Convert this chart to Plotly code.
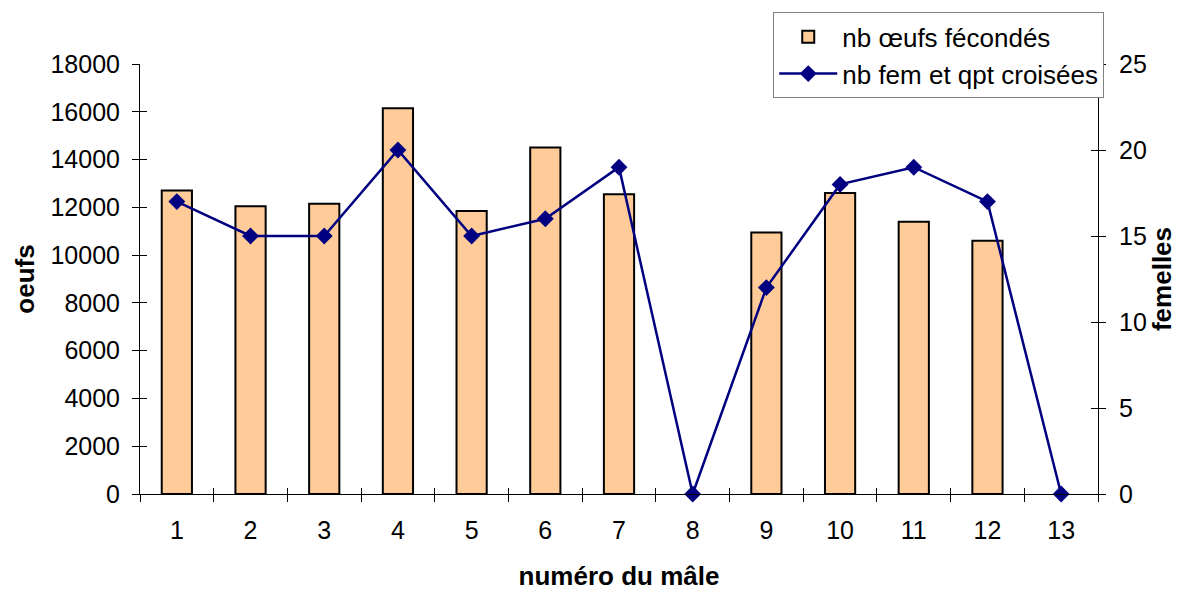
import plotly.graph_objects as go

# Numéro du mâle
males = [str(i) for i in range(1, 14)]
# Nombre d'oeufs fécondés par mâle
oeufs = [12700, 12050, 12150, 16150, 11850, 14500, 12550, 0, 10950, 12600, 11400, 10600, 0]
# Nombre de femelles et quelques croisées
femelles = [17, 15, 15, 20, 15, 16, 19, 0, 12, 18, 19, 17, 0]

y1_ticks = list(range(0, 18001, 2000))
y2_ticks = list(range(0, 26, 5))

FONT = "Liberation Sans, Arial, sans-serif"
TICK_FS = 25
TITLE_FS = 26
XRANGE = [-0.5, len(males) - 0.5]

fig = go.Figure()
fig.add_trace(go.Bar(
    x=males, y=oeufs, name="nb œufs fécondés",
    marker=dict(color="#FFCC99",
                # no outline for empty bars
                line=dict(color="black", width=[2 if v > 0 else 0 for v in oeufs])),
    yaxis="y",
))
fig.add_trace(go.Scatter(
    x=males, y=femelles, name="nb fem et qpt croisées",
    mode="lines+markers",
    line=dict(color="#000080", width=2.5),
    marker=dict(symbol="diamond", size=13, color="#000080"),
    yaxis="y2", cliponaxis=False,
))

axis_common = dict(showgrid=False, zeroline=False, ticklen=7, tickwidth=1,
                   tickcolor="black", linecolor="black", linewidth=1, automargin=False,
                   tickfont=dict(family=FONT, size=TICK_FS, color="black"))
title_font = dict(family=FONT, size=TITLE_FS, color="black")

fig.update_layout(
    width=1190, height=592,
    margin=dict(l=140, r=92, t=60, b=98),
    plot_bgcolor="white", paper_bgcolor="white",
    bargap=0.59,
    showlegend=True,
    legend=dict(
        x=0.661, y=1.12, xanchor="left", yanchor="top",
        bgcolor="white", bordercolor="#808080", borderwidth=1,
        font=dict(family=FONT, size=26, color="black"),
        itemwidth=58, tracegroupgap=0,
    ),
    xaxis=dict(
        type="category", range=XRANGE, showline=True, ticks="outside", tickson="boundaries",
        ticklabelstandoff=14,
        title=dict(text="<b>numéro du mâle</b>", font=title_font, standoff=23),
        **axis_common,
    ),
    yaxis=dict(
        range=[0, 18000], tickvals=y1_ticks, tickformat="d", ticks="outside", showline=True,
        ticklabelstandoff=7,
        title=dict(text="<b>oeufs</b>", font=title_font, standoff=8),
        **axis_common,
    ),
    yaxis2=dict(
        range=[0, 25], tickvals=y2_ticks, ticks="outside", showline=True,
        overlaying="y", side="right", ticklabelstandoff=8,
        title=dict(text="<b>femelles</b>", font=title_font, standoff=4),
        **axis_common,
    ),
    # inner halves of the crossing tick marks
    yaxis3=dict(range=[0, 18000], tickvals=y1_ticks, ticks="inside", showticklabels=False,
                overlaying="y", side="left", showgrid=False, zeroline=False,
                ticklen=7, tickcolor="black", automargin=False),
    yaxis4=dict(range=[0, 25], tickvals=y2_ticks, ticks="inside", showticklabels=False,
                overlaying="y", side="right", showgrid=False, zeroline=False,
                ticklen=7, tickcolor="black", automargin=False),
    xaxis2=dict(type="category", range=XRANGE, ticks="inside", tickson="boundaries",
                showticklabels=False, overlaying="x", side="bottom", showgrid=False,
                zeroline=False, ticklen=6, tickcolor="black", categoryarray=males,
                automargin=False),
)

# invisible traces to activate the extra tick axes
fig.add_trace(go.Scatter(x=males, y=oeufs, xaxis="x2", yaxis="y3", mode="markers",
                         marker=dict(opacity=0), showlegend=False, hoverinfo="skip"))
fig.add_trace(go.Scatter(x=males, y=femelles, xaxis="x", yaxis="y4", mode="markers",
                         marker=dict(opacity=0), showlegend=False, hoverinfo="skip"))

fig.write_html("out.html")
